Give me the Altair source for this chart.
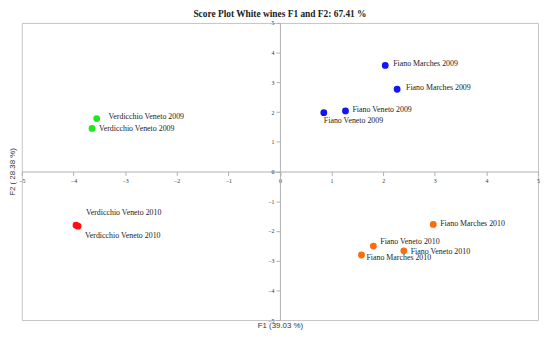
import altair as alt
import pandas as pd

# ---- data ----
labels = [
    "Fiano Marches 2009", "Fiano Marches 2009",
    "Fiano Veneto 2009", "Fiano Veneto 2009",
    "Verdicchio Veneto 2009", "Verdicchio Veneto 2009",
    "Verdicchio Veneto 2010", "Verdicchio Veneto 2010",
    "Fiano Marches 2010", "Fiano Veneto 2010",
    "Fiano Veneto 2010", "Fiano Marches 2010",
]
f1 = [2.04, 2.27, 1.27, 0.85, -3.55, -3.64, -3.95, -3.91, 2.97, 1.81, 2.40, 1.58]
f2 = [3.57, 2.77, 2.04, 1.98, 1.78, 1.45, -1.81, -1.84, -1.78, -2.51, -2.67, -2.81]
group = ["Fiano 2009", "Fiano 2009", "Fiano 2009", "Fiano 2009",
         "Verdicchio 2009", "Verdicchio 2009",
         "Verdicchio 2010", "Verdicchio 2010",
         "Fiano 2010", "Fiano 2010", "Fiano 2010", "Fiano 2010"]
groups = ["Fiano 2009", "Verdicchio 2009", "Verdicchio 2010", "Fiano 2010"]
colors = ["#1414f5", "#22e622", "#ff1010", "#ff6a0a"]
ticks = [-5, -4, -3, -2, -1, 0, 1, 2, 3, 4, 5]

df = pd.DataFrame({"idx": list(range(len(labels))), "label": labels,
                   "F1": f1, "F2": f2, "group": group})

# ---- layout / style ----
W, H = 523, 301
label_offsets = [(8, -1), (9, -1), (7, -1), (0, 8), (12, -2), (7, 1),
                 (10, -12), (7, 10), (7, 0), (7, -4), (7, 1), (5, 3)]

xscale = alt.Scale(domain=[-5, 5], nice=False, zero=False)
yscale = alt.Scale(domain=[-5, 5], nice=False, zero=False)

axis_common = dict(grid=False, domainColor="#b0b0b0", tickColor="#b0b0b0",
                   tickSize=4, labelFontSize=6, labelColor="#333333",
                   labelFont="Liberation Serif", values=ticks, format="d",
                   labelOverlap=False, labelBound=False, labelFlush=False,
                   titleFont="Liberation Sans", titleFontSize=8,
                   titleFontWeight="normal", titleColor="#333333")

xaxis = alt.Axis(title="F1 (39.03 %)", offset=-H / 2,
                 titleY=156, titleBaseline="middle",
                 labelPadding=2, **axis_common)
yaxis = alt.Axis(title="F2 ( 28.38 %)", offset=-W / 2,
                 titleX=-W / 2 - 9, titleY=H / 2,
                 titleBaseline="middle", titleAngle=-90,
                 labelPadding=2, **axis_common)

base = alt.Chart(df)

points = base.mark_circle(size=48, opacity=1).encode(
    x=alt.X("F1:Q", scale=xscale, axis=xaxis),
    y=alt.Y("F2:Q", scale=yscale, axis=yaxis),
    color=alt.Color("group:N", scale=alt.Scale(domain=groups, range=colors),
                    legend=None),
)

text_layers = []
for i, (dx, dy) in enumerate(label_offsets):
    text_layers.append(
        base.transform_filter(alt.datum.idx == i).mark_text(
            align="left", baseline="middle", dx=dx, dy=dy,
            font="Liberation Serif", fontSize=8, color="#222222",
        ).encode(x=alt.X("F1:Q", scale=xscale, axis=xaxis),
                 y=alt.Y("F2:Q", scale=yscale, axis=yaxis),
                 text="label:N")
    )

chart = alt.layer(points, *text_layers).properties(
    width=W, height=H,
    title=alt.TitleParams("Score Plot White wines F1 and F2: 67.41 %",
                          font="Liberation Serif", fontSize=9.5,
                          fontWeight="bold", color="#222222",
                          anchor="middle", offset=2),
    autosize=alt.AutoSizeParams(type="none"),
    padding={"left": 14, "top": 13, "right": 4, "bottom": 14},
).configure_view(stroke="#c4c4c4", strokeWidth=1)

chart.save("out.html", embed_options={"renderer": "svg", "actions": False})
